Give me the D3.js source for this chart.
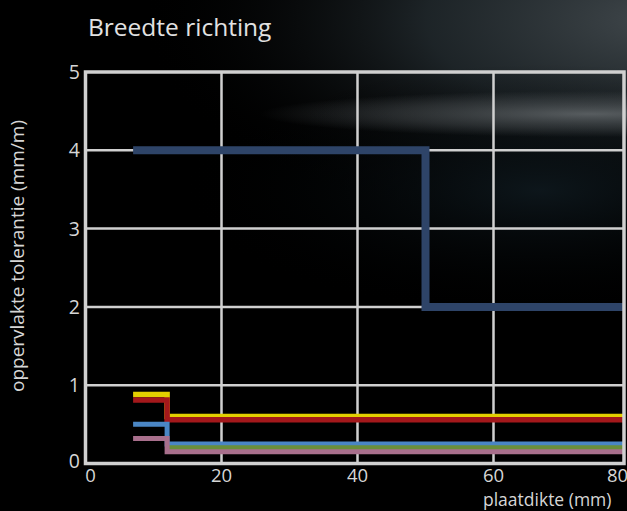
<!DOCTYPE html>
<html><head><meta charset="utf-8">
<script src="https://cdn.jsdelivr.net/npm/d3@7"></script>
<style>html,body{margin:0;padding:0;background:#000;overflow:hidden}</style>
</head><body>
<svg id="c" width="627" height="511"></svg>
<script>
const title = "Breedte richting";
const xLabel = "plaatdikte (mm)";
const yLabel = "oppervlakte tolerantie (mm/m)";
const xTicks = [0, 20, 40, 60, 80];
const yTicks = [0, 1, 2, 3, 4, 5];
// step series: [x, y] breakpoints (step-after)
const navy   = [[7, 4], [50, 2], [80, 2]];
const yellow = [[7, 0.88], [12, 0.6], [80, 0.6]];
const red    = [[7, 0.81], [12, 0.56], [80, 0.56]];
const blue   = [[7, 0.5], [12, 0.25], [80, 0.25]];
const green  = [[12, 0.2], [80, 0.2]];
const pink   = [[7, 0.32], [12, 0.15], [80, 0.15]];
const series = [
  {name: "navy", data: navy, color: "#2e4468", w: 8},
  {name: "yellow", data: yellow, color: "#e3cf00", w: 5.5},
  {name: "red", data: red, color: "#a3181b", w: 5.5},
  {name: "blue", data: blue, color: "#4a86c4", w: 5},
  {name: "green", data: green, color: "#6a8f3a", w: 5},
  {name: "pink", data: pink, color: "#a86f8c", w: 5}
];

const svg = d3.select("#c");
const defs = svg.append("defs");
const W = 627, H = 511;
const x = d3.scaleLinear().domain([0, 80]).range([85.5, 629.5]);
const y = d3.scaleLinear().domain([0, 5]).range([463.5, 72]);
const plotRight = 624;

// background
svg.append("rect").attr("width", W).attr("height", H).attr("fill", "#000");
function radial(id, cx, cy, r, sy, stops) {
  const g = defs.append("radialGradient").attr("id", id)
    .attr("gradientUnits", "userSpaceOnUse").attr("cx", cx).attr("cy", cy).attr("r", r)
    .attr("gradientTransform", `translate(${cx},${cy}) scale(1,${sy}) translate(${-cx},${-cy})`);
  stops.forEach(s => g.append("stop").attr("offset", s[0]).attr("stop-color", s[1]).attr("stop-opacity", s[2]));
  svg.append("rect").attr("width", W).attr("height", H).attr("fill", `url(#${id})`);
}
radial("glow1", 660, 20, 520, 0.42, [[0, "#40474b", 1], [0.45, "#222a2e", 0.85], [1, "#000", 0]]);
radial("glow3", 540, 190, 360, 0.35, [[0, "#0d161b", 1], [1, "#000", 0]]);
radial("glow2", 590, 114, 330, 0.07, [[0, "#6e7376", 0.75], [0.6, "#555a5d", 0.4], [1, "#555a5d", 0]]);

const font = "'Open Sans', 'Noto Sans', sans-serif";
const gridColor = "#d0d0d0";

// gridlines
const grid = svg.append("g");
grid.selectAll("line.v").data(xTicks.filter(d => d > 0 && d < 80)).join("line")
  .attr("x1", d => x(d)).attr("x2", d => x(d)).attr("y1", y(5)).attr("y2", y(0))
  .attr("stroke", gridColor).attr("stroke-width", 2.5);
grid.selectAll("line.h").data(yTicks.filter(d => d > 0 && d < 5)).join("line")
  .attr("x1", x(0)).attr("x2", plotRight).attr("y1", d => y(d)).attr("y2", d => y(d))
  .attr("stroke", gridColor).attr("stroke-width", 2.5);

// clip
defs.append("clipPath").attr("id", "clip").append("rect")
  .attr("x", x(0)).attr("y", y(5)).attr("width", plotRight - x(0)).attr("height", y(0) - y(5));

const line = d3.line().x(d => x(d[0])).y(d => y(d[1])).curve(d3.curveStepAfter);
const lines = svg.append("g").attr("clip-path", "url(#clip)");
lines.selectAll("path").data(series).join("path")
  .attr("d", d => line(d.data)).attr("fill", "none")
  .attr("stroke", d => d.color).attr("stroke-width", d => d.w)
  .attr("stroke-linejoin", "miter").attr("stroke-linecap", "butt");

// border
svg.append("rect").attr("x", x(0)).attr("y", y(5)).attr("width", plotRight - x(0)).attr("height", y(0) - y(5))
  .attr("fill", "none").attr("stroke", gridColor).attr("stroke-width", 3.5);

// tick labels
svg.append("g").selectAll("text").data(xTicks).join("text")
  .attr("x", d => x(d) + (d === 0 ? 5 : d === 80 ? -12 : 0)).attr("y", 481.5)
  .attr("text-anchor", "middle").attr("fill", "#d6d6d6")
  .style("font-family", font).style("font-size", "18.5px").text(d => d);
svg.append("g").selectAll("text").data(yTicks).join("text")
  .attr("x", 80).attr("y", d => y(d) + (d === 0 ? -3 : 0)).attr("dy", "0.36em")
  .attr("text-anchor", "end").attr("fill", "#d6d6d6")
  .style("font-family", font).style("font-size", "19.5px").text(d => d);

// axis labels
svg.append("text").attr("x", 483).attr("y", 505.5).attr("fill", "#d6d6d6")
  .style("font-family", font).style("font-size", "17.5px").text(xLabel);
svg.append("text").attr("transform", "translate(24,256) rotate(-90)").attr("text-anchor", "middle")
  .attr("fill", "#d6d6d6").style("font-family", font).style("font-size", "19px").text(yLabel);

// title
svg.append("text").attr("x", 88).attr("y", 36).attr("fill", "#e2e2e2")
  .style("font-family", font).style("font-size", "24.5px").text(title);
</script>
</body></html>
